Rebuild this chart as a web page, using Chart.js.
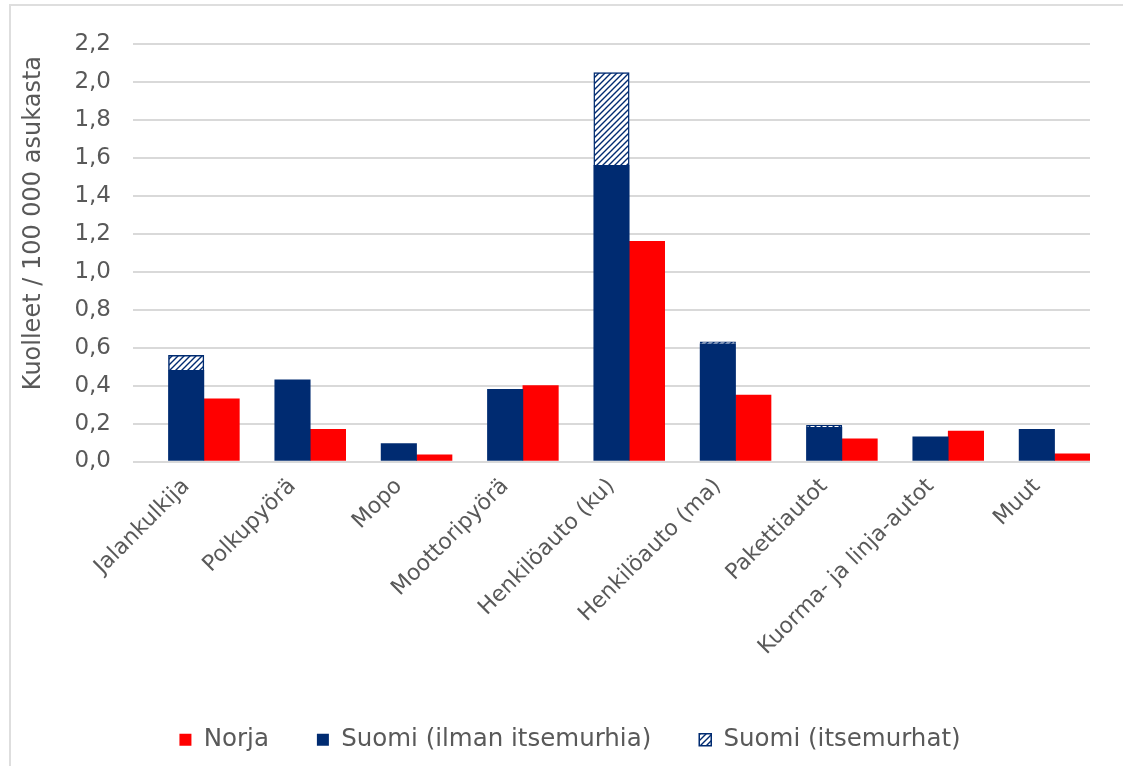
<!DOCTYPE html>
<html lang="fi">
<head>
<meta charset="utf-8">
<title>Kuolleet / 100 000 asukasta</title>
<script src="https://cdn.jsdelivr.net/npm/chart.js@4/dist/chart.umd.min.js"></script>
<style>
  html, body { margin: 0; padding: 0; background: #fff; overflow: hidden; }
  #wrap { position: relative; width: 1123px; height: 766px; overflow: hidden; }
  #frame { position: absolute; left: 9px; top: 4px; width: 2000px; height: 2000px;
           border: 2px solid #dedede; box-sizing: border-box; }
  canvas { position: absolute; left: 0; top: 0; }
</style>
</head>
<body>
<div id="wrap">
  <div id="frame"></div>
  <canvas id="c" width="1123" height="766"></canvas>
</div>
<script>
// Liikennekuolemat tienkäyttäjäryhmittäin, kuolleet / 100 000 asukasta
const categories = [
  'Jalankulkija', 'Polkupyörä', 'Mopo', 'Moottoripyörä', 'Henkilöauto (ku)',
  'Henkilöauto (ma)', 'Pakettiautot', 'Kuorma- ja linja-autot', 'Muut'
];
const norja          = [0.33, 0.17, 0.035, 0.40, 1.16, 0.35, 0.12, 0.16, 0.04];
const suomiIlman     = [0.48, 0.43, 0.095, 0.38, 1.56, 0.62, 0.18, 0.13, 0.17];
const suomiItsemurha = [0.08, 0,    0,     0,    0.49, 0.01, 0.01, 0,    0   ];
const yTickLabels = ['0,0', '0,2', '0,4', '0,6', '0,8', '1,0', '1,2', '1,4', '1,6', '1,8', '2,0', '2,2'];

const RED = '#ff0000';
const BLUE = '#002b71';
const TEXT = '#595959';
const FONT = "'DejaVu Sans', Verdana, sans-serif";

const canvas = document.getElementById('c');
const ctx = canvas.getContext('2d');

// white tile with dark blue upward diagonals
function hatchPattern(color) {
  const s = 6;
  const t = document.createElement('canvas');
  t.width = s; t.height = s;
  const g = t.getContext('2d');
  g.fillStyle = '#ffffff';
  g.fillRect(0, 0, s, s);
  g.strokeStyle = color;
  g.lineWidth = 1.4;
  g.beginPath();
  g.moveTo(-1, s + 1); g.lineTo(s + 1, -1);
  g.moveTo(-2, 2); g.lineTo(2, -2);
  g.moveTo(s - 2, s + 2); g.lineTo(s + 2, s - 2);
  g.stroke();
  return ctx.createPattern(t, 'repeat');
}

// legend order: Norja, Suomi (ilman), Suomi (itsemurhat)
const legendRank = { 1: 1, 2: 2, 3: 0 };

// centre the legend row on the whole frame rather than the padded area
const legendShift = {
  id: 'legendShift',
  afterLayout(chart) {
    if (chart.legend) chart.legend.left += 40;
  }
};

new Chart(ctx, {
  type: 'bar',
  plugins: [legendShift],
  data: {
    labels: categories,
    datasets: [
      { label: '', data: categories.map(() => null), stack: 'tyhja',
        backgroundColor: 'rgba(0,0,0,0)' },
      { label: 'Suomi (ilman itsemurhia)', data: suomiIlman, stack: 'fi',
        backgroundColor: BLUE, borderWidth: 0 },
      { label: 'Suomi (itsemurhat)', data: suomiItsemurha, stack: 'fi',
        backgroundColor: hatchPattern(BLUE), borderColor: BLUE, borderWidth: 1.5,
        borderSkipped: 'bottom' },
      { label: 'Norja', data: norja, stack: 'no',
        backgroundColor: RED, borderWidth: 0 }
    ]
  },
  options: {
    responsive: false,
    devicePixelRatio: 1,
    animation: false,
    layout: { padding: { left: 10, right: 33, top: 44, bottom: 4 } },
    datasets: { bar: { categoryPercentage: 1.0, barPercentage: 1.0 } },
    plugins: {
      tooltip: { enabled: false },
      legend: {
        position: 'bottom',
        labels: {
          color: TEXT,
          font: { family: FONT, size: 24.5 },
          boxWidth: 12, boxHeight: 12,
          padding: 48,
          filter: item => item.datasetIndex !== 0,
          sort: (a, b) => legendRank[a.datasetIndex] - legendRank[b.datasetIndex]
        }
      }
    },
    scales: {
      x: {
        grid: { display: false, drawTicks: false },
        border: { display: false },
        ticks: {
          color: TEXT,
          font: { family: FONT, size: 22 },
          minRotation: 45, maxRotation: 45,
          autoSkip: false,
          padding: 12
        },
        afterFit: scale => { scale.height = 218; }
      },
      y: {
        stacked: true,
        min: 0, max: 2.2,
        grid: { color: '#d9d9d9', lineWidth: 2, drawTicks: false },
        border: { display: false },
        ticks: {
          stepSize: 0.2,
          color: TEXT,
          font: { family: FONT, size: 23 },
          padding: 22,
          callback: (v, i) => yTickLabels[i]
        },
        title: {
          display: true,
          text: 'Kuolleet / 100 000 asukasta\u2002',
          align: 'end',
          color: TEXT,
          font: { family: FONT, size: 24 },
          padding: { top: 9, bottom: 0 }
        },
        afterFit: scale => { scale.width = 123; }
      }
    }
  }
});
</script>
</body>
</html>
